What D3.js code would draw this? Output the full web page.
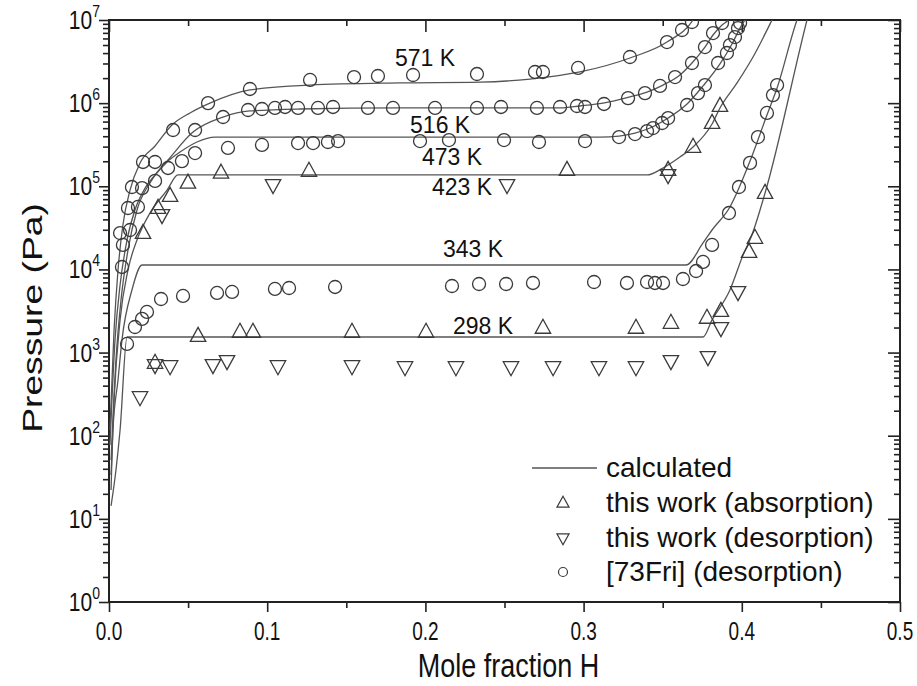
<!DOCTYPE html>
<html>
<head>
<meta charset="utf-8">
<script src="https://cdn.jsdelivr.net/npm/d3@7"></script>
<style>
  html, body { margin: 0; padding: 0; background: #fff; }
  svg { display: block; font-family: "Liberation Sans", Arial, Helvetica, sans-serif; }
</style>
</head>
<body>
<svg id="chart" width="917" height="686"></svg>
<script>
// ---------------- DATA ----------------
const xTicks = [0.0, 0.1, 0.2, 0.3, 0.4, 0.5];
const xMinorTicks = [0.05, 0.15, 0.25, 0.35, 0.45];
const yExponents = [0, 1, 2, 3, 4, 5, 6, 7];

// calculated isotherms [mole fraction H, pressure Pa]
const calc571 = [[0.0006,117],[0.0032,1870],[0.0057,9840],[0.0088,34200],[0.0133,90000],[0.0196,191000],[0.0291,305000],[0.0398,546000],[0.0512,762000],[0.0638,1.0e6],[0.0891,1.44e6],[0.1271,1.65e6],[0.1839,1.75e6],[0.2345,1.79e6],[0.2661,1.95e6],[0.2977,2.37e6],[0.3293,3.49e6],[0.3527,5.43e6],[0.3692,1.0e7],[0.3736,1.4e7]];
const calc516 = [[0.0006,77],[0.0038,1420],[0.0070,6500],[0.0114,22600],[0.0164,51900],[0.0228,95000],[0.0291,137000],[0.0373,207000],[0.0531,449000],[0.0721,681000],[0.0891,805000],[0.1207,850000],[0.1839,875000],[0.2851,875000],[0.2977,924000],[0.3123,1.0e6],[0.3293,1.19e6],[0.3401,1.36e6],[0.3502,1.65e6],[0.3609,2.18e6],[0.3685,3.04e6],[0.3767,4.73e6],[0.3818,6.6e6],[0.3875,8.7e6],[0.3913,1.0e7],[0.3944,1.25e7]];
const calc473 = [[0.0013,51],[0.0044,814],[0.0076,4290],[0.0120,17100],[0.0177,51900],[0.0259,110000],[0.0367,196000],[0.0449,258000],[0.0556,341000],[0.0670,391000],[0.3104,391000],[0.3224,402000],[0.3325,437000],[0.3420,502000],[0.3534,662000],[0.3654,977000],[0.3755,1.61e6],[0.3862,2.96e6],[0.3938,5.14e6],[0.3989,8.0e6],[0.4020,1.0e7],[0.4052,1.25e7]];
const calc423 = [[0.0013,33.7],[0.0032,269],[0.0070,2470],[0.0120,9840],[0.0177,22600],[0.0259,47700],[0.0367,90000],[0.0436,137000],[0.3401,137000],[0.3502,166000],[0.3609,225000],[0.3692,297000],[0.3812,561000],[0.3862,875000],[0.3970,1.75e6],[0.4071,3.59e6],[0.4191,1.0e7],[0.4216,1.25e7]];
const calc343 = [[0.0013,22.2],[0.0025,117],[0.0057,468],[0.0082,1420],[0.0145,5660],[0.0209,11300],[0.3647,11300],[0.3755,20800],[0.3812,29800],[0.3925,56400],[0.4052,201000],[0.4159,720000],[0.4223,1.52e6],[0.4349,1.0e7],[0.4368,1.25e7]];
const calc298 = [[0.0013,14.3],[0.0044,38.7],[0.0070,117],[0.0114,1540],[0.3755,1540],[0.3812,2470],[0.3925,5660],[0.4008,14900],[0.4064,26000],[0.4147,83000],[0.4412,1.0e7],[0.4425,1.25e7]];

// this work (absorption)
const absorption = [[0.0215,27400],[0.0310,54800],[0.0386,76400],[0.0499,110000],[0.0708,145000],[0.1264,153000],[0.2895,157000],[0.3534,157000],[0.3692,297000],[0.3812,577000],[0.3862,924000],
  [0.0291,750],[0.0563,1580],[0.0828,1770],[0.0910,1770],[0.1536,1770],[0.2004,1770],[0.2743,1980],[0.3331,1980],[0.3552,2270],[0.3780,2610],[0.3868,3160],[0.4046,16200],[0.4083,23900],[0.4147,83000]];
// this work (desorption)
const desorption = [[0.0335,45200],[0.1037,104000],[0.2516,104000],[0.3534,137000],
  [0.0196,292],[0.0291,710],[0.0386,689],[0.0657,710],[0.0746,792],[0.1068,689],[0.1536,689],[0.1871,670],[0.2193,670],[0.2541,670],[0.2807,670],[0.3097,670],[0.3331,670],[0.3552,792],[0.3786,885],[0.3868,1980],[0.3976,5360]];
// [73Fri] (desorption)
const fri = [
  [0.0145,98000],[0.0215,196000],[0.0405,475000],[0.0626,1.0e6],[0.0891,1.48e6],[0.1271,1.90e6],[0.1549,2.06e6],[0.1700,2.12e6],[0.1922,2.18e6],[0.2326,2.24e6],[0.2693,2.37e6],[0.2743,2.37e6],[0.2965,2.65e6],[0.3293,3.59e6],[0.3527,5.43e6],[0.3622,7.58e6],[0.3685,9.46e6],
  [0.0120,54800],[0.0291,196000],[0.0544,475000],[0.0721,681000],[0.0879,827000],[0.0967,850000],[0.1049,875000],[0.1113,899000],[0.1195,875000],[0.1321,875000],[0.1416,899000],[0.1637,875000],[0.1795,875000],[0.2061,875000],[0.2326,875000],[0.2478,899000],[0.2705,875000],[0.2851,899000],[0.2958,924000],[0.3009,899000],[0.3129,977000],[0.3281,1.15e6],[0.3388,1.32e6],[0.3483,1.61e6],[0.3578,2.06e6],[0.3685,3.04e6],[0.3767,4.73e6],[0.3818,6.97e6],[0.3875,9.2e6],
  [0.0070,27400],[0.0088,19700],[0.0133,29800],[0.0183,56400],[0.0209,95000],[0.0291,116000],[0.0373,166000],[0.0461,201000],[0.0544,251000],[0.0752,289000],[0.0967,314000],[0.1195,331000],[0.1290,331000],[0.1384,341000],[0.1448,350000],[0.1966,350000],[0.2149,360000],[0.2497,360000],[0.2718,341000],[0.3009,350000],[0.3224,391000],[0.3325,425000],[0.3401,462000],[0.3439,502000],[0.3496,577000],[0.3534,662000],[0.3654,950000],[0.3723,1.32e6],[0.3767,1.65e6],[0.3850,3.04e6],[0.3906,4.01e6],[0.3925,5.0e6],[0.3957,6.24e6],[0.3976,8.0e6],[0.3989,9.2e6],
  [0.0082,10700],[0.0114,1270],[0.0164,2030],[0.0209,2540],[0.0240,3080],[0.0329,4410],[0.0468,4800],[0.0683,5210],[0.0778,5360],[0.1049,5820],[0.1138,5980],[0.1429,6150],[0.2168,6320],[0.2339,6680],[0.2510,6680],[0.2680,6870],[0.3066,7060],[0.3274,6870],[0.3401,7060],[0.3451,6870],[0.3502,6870],[0.3628,7670],[0.3711,9570],[0.3755,12300],[0.3812,19700],[0.3919,47700],[0.3982,98000],[0.4052,191000],[0.4102,391000],[0.4159,762000],[0.4197,1.25e6],[0.4223,1.65e6]
];

const isotherms = [calc571, calc516, calc473, calc423, calc343, calc298];
// temperature labels: [text, x anchor (mole fraction), baseline (Pa)]
const tempLabels = [["571 K",0.1808,2.8e6],["516 K",0.1903,4.37e5],["473 K",0.1978,1.8e5],["423 K",0.2042,7.86e4],["343 K",0.2111,1.41e4],["298 K",0.2174,1.67e3]];
const legendLabels = ["calculated", "this work (absorption)", "this work (desorption)", "[73Fri] (desorption)"];

// ---------------- DRAWING ----------------
const svg = d3.select("#chart");
const L = 109, R = 900, T = 20, B = 602;
const x = d3.scaleLinear().domain([0, 0.5]).range([L, R]);
const y = d3.scaleLog().domain([1, 1e7]).range([B, T]);

const ink = "#222";
const markInk = "#3a3a3a";

svg.append("defs").append("clipPath").attr("id","clip")
  .append("rect").attr("x",L).attr("y",T).attr("width",R-L).attr("height",B-T);

// minor log ticks
const minorP = [];
yExponents.slice(0,-1).forEach(e => { for (let k=2;k<=9;k++) minorP.push(k*Math.pow(10,e)); });
const majorP = yExponents.map(e => Math.pow(10,e));

function styleAxis(g){
  g.select(".domain").remove();
  g.selectAll(".tick line").attr("stroke", ink).attr("stroke-width", 1.6);
}

// bottom axis (outward)
svg.append("g").attr("transform",`translate(0,${B})`)
  .call(d3.axisBottom(x).tickValues(xTicks).tickSize(10).tickSizeOuter(0).tickFormat(""))
  .call(styleAxis);
svg.append("g").attr("transform",`translate(0,${B})`)
  .call(d3.axisBottom(x).tickValues(xMinorTicks).tickSize(6).tickSizeOuter(0).tickFormat(""))
  .call(styleAxis);
// x tick labels (slightly tall glyphs, as in the reference)
svg.append("g").selectAll("text").data(xTicks).join("text")
  .attr("transform", d => `translate(${x(d)},640) scale(0.95,1.28)`)
  .attr("text-anchor","middle").attr("font-size",20).attr("fill","#111")
  .text(d => d3.format(".1f")(d));
// top axis (inward)
svg.append("g").attr("transform",`translate(0,${T})`)
  .call(d3.axisTop(x).tickValues(xTicks).tickSize(-12).tickSizeOuter(0).tickFormat(""))
  .call(styleAxis);
svg.append("g").attr("transform",`translate(0,${T})`)
  .call(d3.axisTop(x).tickValues(xMinorTicks).tickSize(-6).tickSizeOuter(0).tickFormat(""))
  .call(styleAxis);
// left axis (outward)
svg.append("g").attr("transform",`translate(${L},0)`)
  .call(d3.axisLeft(y).tickValues(majorP).tickSize(10).tickSizeOuter(0).tickFormat(""))
  .call(styleAxis);
svg.append("g").attr("transform",`translate(${L},0)`)
  .call(d3.axisLeft(y).tickValues(minorP).tickSize(6).tickSizeOuter(0).tickFormat(""))
  .call(styleAxis);
// right axis (inward)
svg.append("g").attr("transform",`translate(${R},0)`)
  .call(d3.axisRight(y).tickValues(majorP).tickSize(-12).tickSizeOuter(0).tickFormat(""))
  .call(styleAxis);
svg.append("g").attr("transform",`translate(${R},0)`)
  .call(d3.axisRight(y).tickValues(minorP).tickSize(-6).tickSizeOuter(0).tickFormat(""))
  .call(styleAxis);

// y tick labels 10^n
const yl = svg.append("g").selectAll("text").data(yExponents).join("text")
  .attr("transform", d => `translate(100,${y(Math.pow(10,d)) + 9}) scale(1,1.2)`)
  .attr("text-anchor","end").attr("font-size",21).attr("fill","#111");
yl.append("tspan").text("10");
yl.append("tspan").attr("dy",-10).attr("font-size",14).text(d => d);

// frame
svg.append("rect").attr("x",L).attr("y",T).attr("width",R-L).attr("height",B-T)
  .attr("fill","none").attr("stroke",ink).attr("stroke-width",2);

// axis titles
svg.append("text").attr("transform",`translate(${(L+R)/2 + 4},677) scale(1,1.22)`).attr("text-anchor","middle")
  .attr("font-size",27).attr("fill","#111").text("Mole fraction H");
svg.append("text").attr("transform",`translate(42,318) rotate(-90) scale(1.38,1)`).attr("text-anchor","middle")
  .attr("font-size",27).attr("fill","#111").text("Pressure (Pa)");

// curves
const line = d3.line().x(d => x(d[0])).y(d => y(d[1])).curve(d3.curveMonotoneX);
const plot = svg.append("g").attr("clip-path","url(#clip)");
plot.selectAll("path.iso").data(isotherms).join("path").attr("class","iso")
  .attr("d", line).attr("fill","none").attr("stroke","#555").attr("stroke-width",1.3);

// markers
const triUp = s => `M0,${-s*0.62}L${s*0.55},${s*0.38}L${-s*0.55},${s*0.38}Z`;
const triDn = s => `M0,${s*0.62}L${s*0.55},${-s*0.38}L${-s*0.55},${-s*0.38}Z`;
plot.selectAll("circle.fri").data(fri).join("circle").attr("class","fri")
  .attr("cx", d => x(d[0])).attr("cy", d => y(d[1])).attr("r", 6.5)
  .attr("fill","none").attr("stroke",markInk).attr("stroke-width",1.3);
plot.selectAll("path.abs").data(absorption).join("path").attr("class","abs")
  .attr("transform", d => `translate(${x(d[0])},${y(d[1])})`).attr("d", triUp(14))
  .attr("fill","none").attr("stroke",markInk).attr("stroke-width",1.3);
plot.selectAll("path.des").data(desorption).join("path").attr("class","des")
  .attr("transform", d => `translate(${x(d[0])},${y(d[1])})`).attr("d", triDn(14))
  .attr("fill","none").attr("stroke",markInk).attr("stroke-width",1.3);

// temperature labels
svg.append("g").selectAll("text").data(tempLabels).join("text")
  .attr("x", d => x(d[1])).attr("y", d => y(d[2]))
  .attr("font-size",23).attr("fill","#111").text(d => d[0]);

// legend
const lg = svg.append("g");
const rowY = [468, 503, 538, 572];
lg.append("line").attr("x1",532).attr("x2",597).attr("y1",rowY[0]).attr("y2",rowY[0])
  .attr("stroke","#555").attr("stroke-width",1.3);
lg.append("path").attr("transform",`translate(563,${rowY[1]})`).attr("d",triUp(11))
  .attr("fill","none").attr("stroke",markInk).attr("stroke-width",1.2);
lg.append("path").attr("transform",`translate(563,${rowY[2]})`).attr("d",triDn(11))
  .attr("fill","none").attr("stroke",markInk).attr("stroke-width",1.2);
lg.append("circle").attr("cx",563).attr("cy",rowY[3]).attr("r",4.5)
  .attr("fill","none").attr("stroke",markInk).attr("stroke-width",1.2);
lg.selectAll("text").data(legendLabels).join("text")
  .attr("x",606).attr("y",(d,i) => rowY[i] + 9)
  .attr("font-size",28).attr("fill","#111").text(d => d);
</script>
</body>
</html>
